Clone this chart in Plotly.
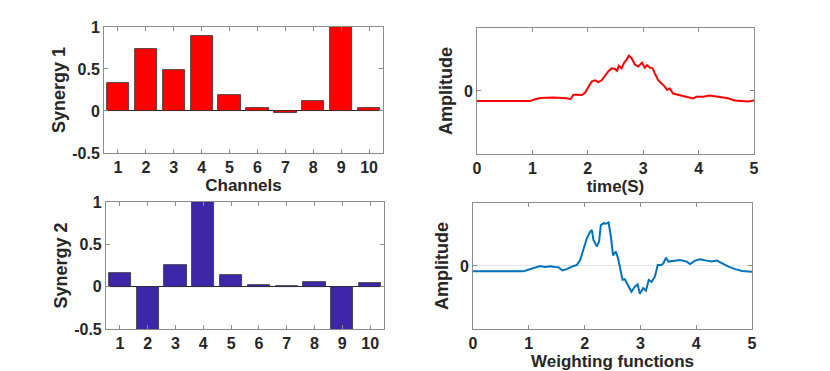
import plotly.graph_objects as go
from plotly.subplots import make_subplots

channels = [1, 2, 3, 4, 5, 6, 7, 8, 9, 10]
synergy1 = [0.337, 0.74, 0.486, 0.894, 0.19, 0.04, -0.02, 0.12, 1.0, 0.03]
synergy2 = [0.166, -0.62, 0.253, 1.0, 0.14, 0.024, 0.012, 0.06, -0.58, 0.04]

# weighting function 1 (red)
t1 = [0, 0.5, 0.96, 1.02, 1.14, 1.38, 1.62, 1.69, 1.74, 1.8, 1.89, 1.95, 2.0, 2.07,
      2.13, 2.19, 2.25, 2.31, 2.37, 2.43, 2.49, 2.53, 2.56, 2.61, 2.65, 2.71, 2.74,
      2.79, 2.85, 2.91, 2.95, 2.98, 3.03, 3.07, 3.12, 3.17, 3.21, 3.27, 3.33, 3.39,
      3.43, 3.48, 3.54, 3.63, 3.72, 3.84, 3.9, 3.96, 4.08, 4.2, 4.32, 4.41, 4.53,
      4.65, 4.77, 4.89, 5.0]
amp1 = [-0.16, -0.16, -0.16, -0.14, -0.11, -0.105, -0.115, -0.13, -0.06, -0.058,
        -0.065, -0.03, 0.04, 0.15, 0.17, 0.14, 0.17, 0.24, 0.31, 0.36, 0.35, 0.32,
        0.40, 0.36, 0.44, 0.51, 0.56, 0.52, 0.42, 0.39, 0.42, 0.45, 0.37, 0.41, 0.37,
        0.36, 0.28, 0.17, 0.12, 0.07, 0.02, 0.04, -0.04, -0.06, -0.07, -0.10, -0.12,
        -0.09, -0.09, -0.07, -0.085, -0.095, -0.115, -0.15, -0.16, -0.165, -0.15]

# weighting function 2 (blue)
t2 = [0, 0.5, 0.9, 0.99, 1.11, 1.2, 1.29, 1.38, 1.47, 1.53, 1.6, 1.68, 1.77, 1.86,
      1.92, 1.98, 2.04, 2.1, 2.13, 2.16, 2.22, 2.26, 2.29, 2.34, 2.38, 2.43, 2.47,
      2.51, 2.56, 2.6, 2.65, 2.68, 2.72, 2.78, 2.84, 2.9, 2.95, 2.99, 3.05, 3.1,
      3.15, 3.2, 3.26, 3.31, 3.37, 3.41, 3.46, 3.5, 3.59, 3.71, 3.83, 3.89, 3.98,
      4.07, 4.19, 4.28, 4.37, 4.46, 4.58, 4.7, 4.82, 5.0]
amp2 = [-0.085, -0.085, -0.085, -0.06, -0.02, 0.0, -0.016, -0.005, -0.016, -0.02,
        -0.07, -0.05, -0.01, 0.015, 0.095, 0.28, 0.44, 0.545, 0.57, 0.41, 0.31, 0.39,
        0.65, 0.68, 0.67, 0.69, 0.47, 0.17, 0.23, 0.12, -0.12, -0.22, -0.21, -0.30,
        -0.41, -0.33, -0.29, -0.44, -0.35, -0.39, -0.22, -0.25, -0.17, 0.016, 0.016,
        0.04, 0.13, 0.07, 0.085, 0.095, 0.07, 0.03, 0.085, 0.105, 0.085, 0.07, 0.085,
        0.04, -0.01, -0.05, -0.08, -0.09]

fnt = dict(family="Liberation Sans, Arial", size=16, color="#262626", weight="bold")
xtfnt = dict(fnt, size=17)
ytfnt = dict(fnt, size=18)
axcol = "#8c8c8c"

fig = make_subplots(rows=2, cols=2)
fig.add_trace(go.Bar(x=channels, y=synergy1, width=0.8, marker_color="#ff0000",
                     marker_line=dict(color="#333333", width=0.8)), row=1, col=1)
fig.add_trace(go.Bar(x=channels, y=synergy2, width=0.8, marker_color="#3e26a8",
                     marker_line=dict(color="#333333", width=0.8)), row=2, col=1)
fig.add_trace(go.Scatter(x=t1, y=amp1, mode="lines", line=dict(color="#ff0000", width=2)),
              row=1, col=2)
fig.add_trace(go.Scatter(x=t2, y=amp2, mode="lines", line=dict(color="#0072bd", width=2)),
              row=2, col=2)

common = dict(showline=True, linecolor=axcol, linewidth=1, mirror="ticks", ticks="inside",
              ticklen=4, tickcolor=axcol, showgrid=False, tickfont=fnt, automargin=False)
fig.update_xaxes(**common)
fig.update_yaxes(**common)

fig.update_xaxes(domain=[0.0866, 0.4528], range=[0.5, 10.5], tickvals=channels,
                 zeroline=False, title=dict(text="Channels", font=xtfnt, standoff=0),
                 row=1, col=1)
fig.update_xaxes(domain=[0.0892, 0.4541], range=[0.5, 10.5], tickvals=channels,
                 zeroline=False, row=2, col=1)
fig.update_yaxes(domain=[0.5796, 0.958], range=[-0.5, 1], tickvals=[-0.5, 0, 0.5, 1],
                 ticktext=["-0.5", "0", "0.5", "1"], zeroline=True, zerolinecolor="#262626",
                 zerolinewidth=1, title=dict(text="Synergy 1", font=ytfnt, standoff=1),
                 row=1, col=1)
fig.update_yaxes(domain=[0.0511, 0.4324], range=[-0.5, 1], tickvals=[-0.5, 0, 0.5, 1],
                 ticktext=["-0.5", "0", "0.5", "1"], zeroline=True, zerolinecolor="#262626",
                 zerolinewidth=1, title=dict(text="Synergy 2", font=ytfnt, standoff=1),
                 row=2, col=1)

fig.update_xaxes(domain=[0.5761, 0.9396], range=[0, 5], tickvals=[0, 1, 2, 3, 4, 5],
                 zeroline=False, title=dict(text="time(S)", font=xtfnt, standoff=0),
                 row=1, col=2)
fig.update_xaxes(domain=[0.5709, 0.9370], range=[0, 5], tickvals=[0, 1, 2, 3, 4, 5],
                 zeroline=False,
                 title=dict(text="Weighting functions", font=xtfnt, standoff=0),
                 row=2, col=2)
fig.update_yaxes(domain=[0.5766, 0.955], range=[-1, 1], tickvals=[0], zeroline=False,
                 title=dict(text="Amplitude", font=ytfnt, standoff=6),
                 row=1, col=2)
fig.update_yaxes(domain=[0.0511, 0.4294], range=[-1, 1], tickvals=[0], zeroline=True,
                 zerolinecolor="#e6e6e6", zerolinewidth=1,
                 title=dict(text="Amplitude", font=ytfnt, standoff=6),
                 row=2, col=2)

# the page body has an 8px margin, so the figure is sized 8px short on each side
fig.update_layout(width=822, height=363, showlegend=False, plot_bgcolor="white",
                  paper_bgcolor="white", margin=dict(l=30, r=30, t=5, b=25), bargap=0)

fig.write_html("out.html")
